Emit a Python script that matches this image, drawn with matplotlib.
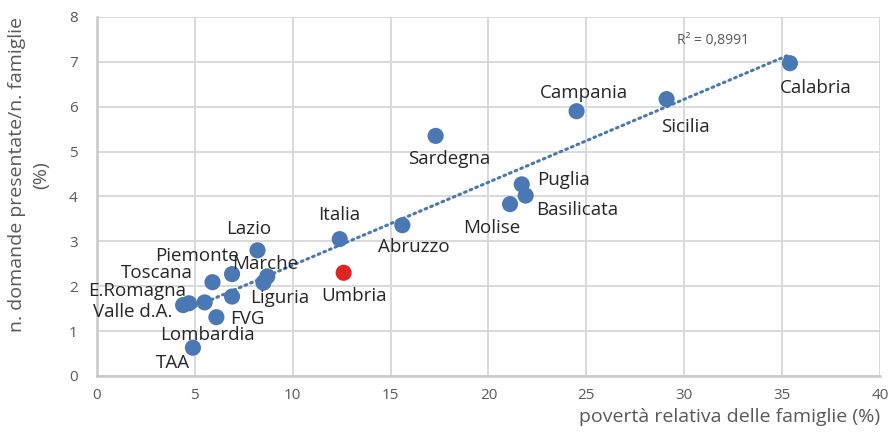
#!/usr/bin/env python3
"""Scatter: domande presentate vs povertà relativa, per regione."""
import numpy as np
import matplotlib

matplotlib.use("Agg")
import matplotlib.pyplot as plt

plt.rcParams["font.family"] = ["Open Sans", "DejaVu Sans"]

# data
regioni = ["Calabria", "Sicilia", "Campania", "Sardegna", "Puglia", "Basilicata",
           "Molise", "Abruzzo", "Italia", "Umbria", "Lazio", "Piemonte", "Marche",
           "Veneto", "Toscana", "E.Romagna", "Valle d.A.", "Liguria", "Lombardia",
           "FVG", "TAA"]
poverta = [35.4, 29.1, 24.5, 17.3, 21.7, 21.9, 21.1, 15.6, 12.4, 12.6, 8.2, 6.9, 8.7,
           8.5, 5.9, 4.7, 4.4, 6.9, 5.5, 6.1, 4.9]
domande = [6.97, 6.17, 5.90, 5.35, 4.27, 4.02, 3.83, 3.36, 3.05, 2.30, 2.80, 2.27, 2.22,
           2.08, 2.09, 1.62, 1.58, 1.77, 1.64, 1.31, 0.63]
r2_text = "R² = 0,8991"

# label offsets in pixels (dx, dy); regions missing here have no label
label_offsets = {
    "Calabria": (26, -25), "Sicilia": (19, -28), "Campania": (7, 18),
    "Sardegna": (14, -23), "Puglia": (42, 4), "Basilicata": (52, -14),
    "Molise": (-18, -24), "Abruzzo": (11, -22), "Italia": (-1, 24),
    "Umbria": (10, -23), "Lazio": (-9, 21), "Piemonte": (-35, 18),
    "Marche": (-2, 12), "Toscana": (-56, 9), "E.Romagna": (-52, 12),
    "Valle d.A.": (-50, -7), "Liguria": (48, -1), "Lombardia": (3, -33),
    "FVG": (31, -2), "TAA": (-20, -15),
}

BLUE = "#4a78b5"
RED = "#e02424"
GRID = "#d9d9d9"
GRAY = "#595959"

fig = plt.figure(figsize=(8.94, 4.40), dpi=100)
ax = fig.add_axes([0.1085, 0.1455, 0.8758, 0.8159])

colors = [RED if r == "Umbria" else BLUE for r in regioni]
ax.scatter(poverta, domande, s=135, c=colors, zorder=3, linewidths=0)

# linear trendline
x = np.array(poverta)
y = np.array(domande)
k, q = np.polyfit(x, y, 1)
xs = np.array([x.min(), x.max()])
ax.plot(xs, k * xs + q, color=BLUE, lw=2.2, linestyle=(0, (0.6, 1.4)),
        dash_capstyle="round", zorder=4)
ax.annotate(r2_text, (xs[1], k * xs[1] + q), xytext=(-113, 14),
            textcoords="offset pixels", fontsize=10, color=GRAY, va="center")

for name, px, py in zip(regioni, poverta, domande):
    if name not in label_offsets:
        continue
    dx, dy = label_offsets[name]
    ax.annotate(name, (px, py), xytext=(dx, dy), textcoords="offset pixels",
                ha="center", va="center", fontsize=13.5, color="#262626", zorder=5)

ax.set_xlim(0, 40)
ax.set_ylim(0, 8)
ax.set_xticks(range(0, 41, 5))
ax.set_yticks(range(0, 9))
ax.grid(True, color=GRID, lw=1.4)
ax.set_axisbelow(True)
for side in ("top", "right"):
    ax.spines[side].set_visible(False)
for side in ("left", "bottom"):
    ax.spines[side].set_color("#c8c8c8")
    ax.spines[side].set_linewidth(1.8)
ax.tick_params(length=0, labelsize=11, labelcolor=GRAY)
ax.tick_params(axis="y", pad=14)
ax.tick_params(axis="x", pad=9)

ax.set_xlabel("povertà relativa delle famiglie (%)", fontsize=14, color=GRAY,
              loc="right", labelpad=3)
fig.text(29 / 894, 1 - 175 / 440, "n. domande presentate/n. famiglie\n(%)",
         rotation=90, ha="center", va="center", multialignment="center",
         fontsize=14, color=GRAY, linespacing=1.4)

fig.savefig("out.png", dpi=100)
